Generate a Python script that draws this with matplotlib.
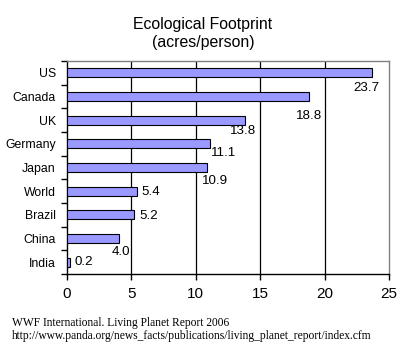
import numpy as np
import matplotlib
matplotlib.use("Agg")
import matplotlib.pyplot as plt

# data
countries = ["US", "Canada", "UK", "Germany", "Japan", "World", "Brazil", "China", "India"]
footprint = [23.7, 18.8, 13.8, 11.1, 10.9, 5.4, 5.2, 4.0, 0.2]
x_ticks = [0, 5, 10, 15, 20, 25]

# where each value label sits relative to its bar end (pixels)
label_offsets = [(-6, -15), (0, -19), (-2, -11), (14, -9), (8, -13),
                 (14, -1), (15, -1), (2, -13), (14, 0)]

plt.rcParams["font.family"] = ["Liberation Sans", "DejaVu Sans"]

fig = plt.figure(figsize=(4.06, 3.48), dpi=100)
ax = fig.add_axes([67 / 406, 1 - 274 / 348, 322 / 406, 213 / 348])

pos = np.arange(len(countries))
ax.barh(pos, footprint, height=0.37, color="#9999ff", edgecolor="black", linewidth=0.8, zorder=3)

for p, v, (dx, dy) in zip(pos, footprint, label_offsets):
    ax.annotate("%.1f" % v, (v, p), xytext=(dx, dy), textcoords="offset pixels",
                ha="center", va="center", fontsize=9.6, zorder=4)

ax.set_xlim(0, 25)
ax.set_ylim(len(countries) - 0.5, -0.5)
ax.set_xticks(x_ticks)
ax.set_xticklabels([str(t) for t in x_ticks], fontsize=11)
ax.set_yticks(pos)
ax.set_yticklabels(countries, fontsize=8.8)
ax.set_yticks(np.arange(len(countries) + 1) - 0.5, minor=True)

ax.tick_params(axis="y", which="major", length=0, pad=8)
ax.tick_params(axis="y", which="minor", length=4, width=1, direction="out")
ax.tick_params(axis="x", length=4, width=1, direction="out", pad=5)

for x in x_ticks[1:-1]:
    ax.axvline(x, color="black", linewidth=0.9, zorder=1)

ax.spines["left"].set_color("black")
ax.spines["bottom"].set_color("black")
ax.spines["top"].set_color("#808080")
ax.spines["right"].set_color("#808080")
for s in ax.spines.values():
    s.set_linewidth(1)

fig.text(0.5, 1 - 24 / 348, "Ecological Footprint", ha="center", va="center", fontsize=11.4)
fig.text(0.5, 1 - 43 / 348, "(acres/person)", ha="center", va="center", fontsize=11.4)

fig.text(12 / 406, 1 - 326 / 348, "WWF International. Living Planet Report 2006",
         family="Liberation Serif", fontsize=8.3, ha="left", va="baseline")
fig.text(12 / 406, 1 - 338.5 / 348,
         "http://www.panda.org/news_facts/publications/living_planet_report/index.cfm",
         family="Liberation Serif", fontsize=8.3, ha="left", va="baseline")

fig.savefig("out.png", dpi=100)
